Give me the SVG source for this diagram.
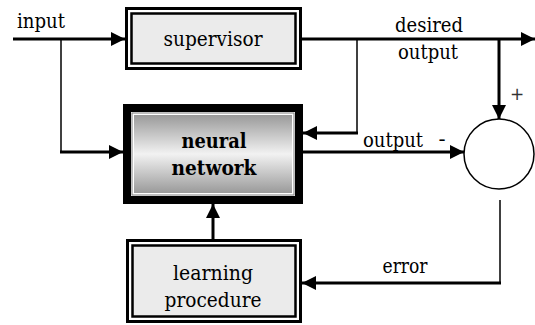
<svg xmlns="http://www.w3.org/2000/svg" width="535" height="325" viewBox="0 0 535 325">
<defs>
<marker id="ah" viewBox="0 0 14 14" refX="14" refY="7" markerWidth="14" markerHeight="14" markerUnits="userSpaceOnUse" orient="auto">
<path d="M0,0 L14,7 L0,14 z" fill="#000"/>
</marker>
<linearGradient id="nng" x1="0" y1="0" x2="0" y2="1">
<stop offset="0" stop-color="#9a9a9a"/>
<stop offset="0.5" stop-color="#f2f2f2"/>
<stop offset="1" stop-color="#9a9a9a"/>
</linearGradient>
<style>
text{font-family:"DejaVu Serif","Liberation Serif",serif;font-size:21px;fill:#000}
.c{text-anchor:middle}
.b{font-weight:bold}
.p{font-family:"DejaVu Sans",sans-serif;font-size:17px;fill:#333}
.thick{stroke:#000;stroke-width:3;fill:none}
.thin{stroke:#000;stroke-width:1.5;fill:none}
.outer{fill:#fff;stroke:#000;stroke-width:3}
.inner{fill:#ebebeb;stroke:#000;stroke-width:2.5}
</style>
</defs>
<rect width="535" height="325" fill="#fff"/>
<g id="connectors">
<line class="thick" x1="13" y1="39" x2="125" y2="39" marker-end="url(#ah)"/>
<polyline class="thin" points="61,39 61,152"/>
<line class="thick" x1="60" y1="152" x2="123" y2="152" marker-end="url(#ah)"/>
<line class="thick" x1="302" y1="39" x2="535" y2="39" marker-end="url(#ah)"/>
<line class="thin" x1="357" y1="39" x2="357" y2="133"/>
<line class="thick" x1="358" y1="133" x2="303" y2="133" marker-end="url(#ah)"/>
<line class="thick" x1="499" y1="39" x2="499" y2="119" marker-end="url(#ah)"/>
<line class="thick" x1="303" y1="152" x2="464" y2="152" marker-end="url(#ah)"/>
<line class="thin" x1="500" y1="200" x2="500" y2="283"/>
<line class="thick" x1="501" y1="283" x2="302" y2="283" marker-end="url(#ah)"/>
<line class="thick" x1="213" y1="239" x2="213" y2="204" marker-end="url(#ah)"/>
</g>
<g id="supervisor">
<rect class="outer" x="126.5" y="8.5" width="174" height="60"/>
<rect class="inner" x="131.5" y="13.5" width="164" height="50"/>
<text class="c" x="213" y="46" textLength="99" lengthAdjust="spacingAndGlyphs">supervisor</text>
</g>
<g id="neural-network">
<rect x="127" y="108" width="172" height="92" fill="none" stroke="#000" stroke-width="8"/>
<rect x="132" y="113" width="162" height="82" fill="#fff" stroke="#808080" stroke-width="1"/>
<rect x="134" y="115" width="158" height="78" fill="url(#nng)"/>
<text class="c b" x="214" y="148" textLength="65" lengthAdjust="spacingAndGlyphs">neural</text>
<text class="c b" x="214" y="175" textLength="85" lengthAdjust="spacingAndGlyphs">network</text>
</g>
<g id="learning-procedure">
<rect class="outer" x="127.5" y="240.5" width="173" height="81"/>
<rect class="inner" x="132.5" y="245.5" width="163" height="71"/>
<text class="c" x="213" y="280" textLength="80" lengthAdjust="spacingAndGlyphs">learning</text>
<text class="c" x="213" y="307" textLength="97" lengthAdjust="spacingAndGlyphs">procedure</text>
</g>
<g id="comparator">
<circle cx="499" cy="154" r="35" fill="#fff" stroke="#000" stroke-width="1.5"/>
</g>
<g id="labels">
<text x="17" y="28" textLength="48" lengthAdjust="spacingAndGlyphs">input</text>
<text class="c" x="429" y="32" textLength="68" lengthAdjust="spacingAndGlyphs">desired</text>
<text class="c" x="428" y="59" textLength="60" lengthAdjust="spacingAndGlyphs">output</text>
<text class="c" x="393" y="147" textLength="60" lengthAdjust="spacingAndGlyphs">output</text>
<text class="c" x="442" y="146">-</text>
<text class="c p" x="517" y="100">+</text>
<text class="c" x="405" y="273" textLength="45" lengthAdjust="spacingAndGlyphs">error</text>
</g>
</svg>
